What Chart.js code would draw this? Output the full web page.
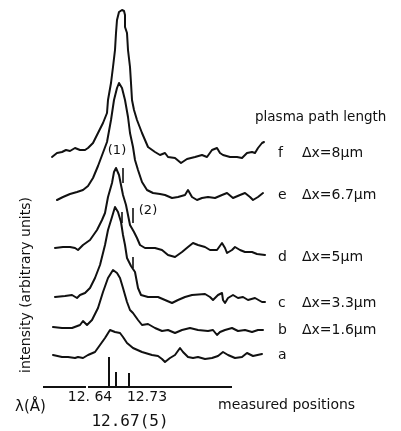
<!DOCTYPE html>
<html><head><meta charset="utf-8">
<script src="https://cdn.jsdelivr.net/npm/chart.js@4.4.1/dist/chart.umd.min.js"></script>
<style>html,body{margin:0;padding:0;background:#fff;}canvas{display:block;}</style>
</head><body>
<canvas id="c" width="401" height="431"></canvas>
<script>
// x = detector channel, y = intensity (arbitrary units, traces stacked)
const traceA = [[10,32],[19,30],[25,30],[32,29],[35,30],[40,29],[45,32],[52,35],[57,42],[62,49],[67,57],[72,55],[77,54],[80,50],[84,44],[90,39],[99,35],[109,32],[115,31],[119,28],[122,25],[127,29],[132,32],[137,39],[140,35],[145,30],[150,29],[155,30],[162,28],[169,29],[175,31],[180,35],[185,32],[192,29],[199,30],[204,34],[210,31],[219,33]];
const traceB = [[10,60],[19,59],[29,59],[37,62],[40,66],[44,62],[49,67],[55,79],[60,95],[65,109],[70,117],[74,114],[77,109],[80,99],[84,85],[87,77],[90,74],[95,67],[99,62],[105,63],[112,59],[119,56],[125,57],[132,54],[139,57],[147,59],[155,57],[165,56],[170,57],[174,52],[177,55],[182,57],[189,59],[195,56],[202,57],[209,55],[215,57],[220,57]];
const traceC = [[12,90],[22,91],[29,92],[34,89],[37,92],[42,94],[47,99],[52,109],[57,122],[60,134],[62,142],[65,157],[69,170],[72,180],[75,175],[78,165],[80,152],[82,142],[84,129],[88,121],[92,115],[95,99],[98,92],[105,90],[115,90],[122,87],[129,84],[135,87],[142,90],[149,92],[162,93],[167,90],[170,87],[175,92],[179,94],[180,87],[182,84],[185,89],[190,92],[195,89],[200,90],[205,87],[212,89],[219,85],[222,85]];
const traceD = [[12,139],[20,140],[27,140],[32,139],[35,137],[40,142],[47,147],[54,157],[59,167],[62,174],[65,190],[69,204],[71,215],[73,219],[76,212],[78,202],[80,192],[83,182],[85,172],[87,162],[91,155],[94,149],[97,142],[102,139],[107,139],[112,139],[119,137],[125,132],[132,130],[139,135],[145,140],[150,144],[155,142],[162,140],[167,137],[174,137],[179,144],[182,139],[184,134],[189,137],[192,140],[197,137],[202,135],[209,135],[214,133],[222,132]];
const traceE = [[14,187],[20,190],[27,193],[34,195],[40,197],[45,201],[50,209],[55,221],[64,245],[68,267],[71,287],[74,299],[76,304],[79,299],[82,287],[85,270],[87,254],[90,240],[92,227],[95,217],[99,205],[104,197],[110,194],[117,193],[122,192],[129,189],[135,190],[142,192],[145,197],[149,190],[154,187],[159,189],[165,190],[172,189],[179,192],[184,194],[190,189],[197,192],[202,194],[207,190],[210,187],[215,190],[220,194]];
const traceF = [[9,230],[14,234],[19,235],[23,237],[27,236],[32,239],[37,237],[42,237],[45,239],[50,244],[55,254],[60,264],[64,274],[65,287],[68,304],[70,320],[72,337],[73,354],[74,367],[76,375],[79,377],[81,376],[82,372],[82,360],[84,354],[85,337],[87,320],[88,304],[89,287],[91,277],[94,267],[99,254],[105,240],[112,235],[117,232],[122,234],[125,230],[132,229],[138,224],[144,228],[152,230],[159,232],[164,230],[169,237],[174,239],[177,234],[180,232],[187,230],[194,230],[199,229],[204,234],[209,235],[212,234],[215,239],[219,244],[221,245]];

const traceLetters = ['a','b','c','d','e','f'];
const pathLengths = ['', 'Δx=1.6μm', 'Δx=3.3μm', 'Δx=5μm', 'Δx=6.7μm', 'Δx=8μm'];
const letterLevels = [32, 57, 84, 130, 192, 234];

const measuredChannels = [66, 73, 86];
const measuredHeights = [30, 15, 14];

// component markers: [channel, low, high]
const componentMarkers = [[80,204,219],[90,164,179],[79,164,175],[90,119,130]];
const componentLabels = [['(1)',74,236],['(2)',105,176]];

const tickChannels = [47, 87, 104];
const tickLabels = ['12. 64', ['', '', '12.67(5)'], '12.73'];
const axisSegments = [[0,43],[45,189]];

const toPts = arr => arr.map(p => ({x:p[0], y:p[1]}));
const traceStyle = {borderColor:'#111', borderWidth:2, pointRadius:0, tension:0, borderJoinStyle:'round', borderCapStyle:'round', fill:false, showLine:true};

const measuredPts = [];
measuredChannels.forEach((c,i) => { measuredPts.push({x:c,y:0},{x:c,y:measuredHeights[i]},{x:c,y:null}); });
const markerPts = [];
componentMarkers.forEach(m => { markerPts.push({x:m[0],y:m[1]},{x:m[0],y:m[2]},{x:m[0],y:null}); });

const textPlugin = {
  id:'texts',
  afterDraw(chart){
    const ctx = chart.ctx, xs = chart.scales.x, ys = chart.scales.y;
    ctx.save();
    ctx.fillStyle = '#111'; ctx.strokeStyle = '#111';
    // axis line
    ctx.lineWidth = 2;
    const y0 = ys.getPixelForValue(0);
    axisSegments.forEach(s => { ctx.beginPath(); ctx.moveTo(xs.getPixelForValue(s[0]), y0); ctx.lineTo(xs.getPixelForValue(s[1]), y0); ctx.stroke(); });
    ctx.textBaseline = 'middle';
    ctx.font = '14px "DejaVu Sans"';
    ctx.textAlign = 'left';
    traceLetters.forEach((l,i) => {
      const y = ys.getPixelForValue(letterLevels[i]);
      ctx.fillText(l, xs.getPixelForValue(235), y);
      if (pathLengths[i]) ctx.fillText(pathLengths[i], xs.getPixelForValue(259), y);
    });
    ctx.font = '13.5px "DejaVu Sans"';
    ctx.fillText('plasma path length', xs.getPixelForValue(212), ys.getPixelForValue(270));
    ctx.font = '13px "DejaVu Sans"';
    ctx.textAlign = 'center';
    componentLabels.forEach(c => ctx.fillText(c[0], xs.getPixelForValue(c[1]), ys.getPixelForValue(c[2])));
    ctx.textAlign = 'left';
    ctx.font = '14px "DejaVu Sans"';
    ctx.fillText('measured positions', 218, 405);
    ctx.font = '15px "DejaVu Sans"';
    ctx.fillText('λ(Å)', 15, 407);
    // y title
    ctx.save();
    ctx.translate(26, 373);
    ctx.rotate(-Math.PI/2);
    ctx.font = '14px "DejaVu Sans"';
    ctx.textAlign = 'left';
    ctx.fillText('intensity (arbitrary units)', 0, 0);
    ctx.restore();
    ctx.restore();
  }
};

new Chart(document.getElementById('c'), {
  type:'scatter',
  data:{datasets:[
    {label:'a', data:toPts(traceA), ...traceStyle},
    {label:'b', data:toPts(traceB), ...traceStyle},
    {label:'c', data:toPts(traceC), ...traceStyle},
    {label:'d', data:toPts(traceD), ...traceStyle},
    {label:'e', data:toPts(traceE), ...traceStyle},
    {label:'f', data:toPts(traceF), ...traceStyle},
    {label:'measured', data:measuredPts, ...traceStyle, spanGaps:false, borderCapStyle:'butt'},
    {label:'markers', data:markerPts, ...traceStyle, borderWidth:1.6, spanGaps:false, borderCapStyle:'butt'}
  ]},
  options:{
    responsive:false, animation:false, devicePixelRatio:1,
    layout:{padding:{left:43, right:131, top:5, bottom:0}},
    plugins:{legend:{display:false}, tooltip:{enabled:false}},
    scales:{
      x:{type:'linear', min:0, max:227,
        grid:{display:false, drawTicks:false}, border:{display:false},
        afterBuildTicks: s => { s.ticks = tickChannels.map(v => ({value:v})); },
        afterFit: s => { s.height = 44; },
        ticks:{autoSkip:false, maxRotation:0, minRotation:0, padding:4, color:'#111',
          callback:(v,i) => tickLabels[i],
          font: ctx => (ctx.index === 1 ? {family:'"DejaVu Sans Mono"', size:16, lineHeight:'12.5px'} : {family:'"DejaVu Sans"', size:14, lineHeight:'12.5px'})
        }
      },
      y:{type:'linear', min:0, max:382, display:false}
    }
  },
  plugins:[textPlugin]
});
</script>
</body></html>
